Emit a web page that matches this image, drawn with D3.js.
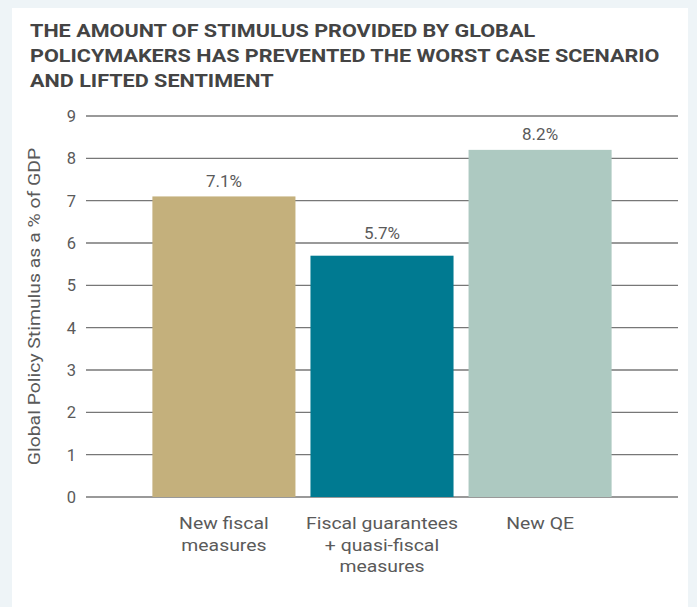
<!DOCTYPE html>
<html>
<head>
<meta charset="utf-8">
<script src="https://cdn.jsdelivr.net/npm/d3@7"></script>
<style>
  html, body { margin: 0; padding: 0; background: #eef4f7; }
  svg { display: block; }
</style>
</head>
<body>
<svg id="chart" width="697" height="607"></svg>
<script>
const titleLines = ["THE AMOUNT OF STIMULUS PROVIDED BY GLOBAL", "POLICYMAKERS HAS PREVENTED THE WORST CASE SCENARIO", "AND LIFTED SENTIMENT"];
const categories = ["New fiscal measures", "Fiscal guarantees + quasi-fiscal measures", "New QE"];
const categoryLines = [["New fiscal", "measures"], ["Fiscal guarantees", "+ quasi-fiscal", "measures"], ["New QE"]];
const values = [7.1, 5.7, 8.2];
const valueLabels = ["7.1%", "5.7%", "8.2%"];
const colors = ["#c4b07c", "#007a91", "#adc9c1"];
const yTicks = [0, 1, 2, 3, 4, 5, 6, 7, 8, 9];
const yTitle = "Global Policy Stimulus as a % of GDP";

const svg = d3.select("#chart");
const font = "Roboto, 'Liberation Sans', sans-serif";
const textColor = "#5a5a5a";

function stretch(sel, k) {
  sel.each(function () {
    const L = this.getComputedTextLength();
    d3.select(this).attr("textLength", L * k).attr("lengthAdjust", "spacingAndGlyphs");
  });
}

// white panel
svg.append("rect").attr("x", 12).attr("y", 8).attr("width", 676).attr("height", 607).attr("fill", "#fff");

// title
const title = svg.append("g").selectAll("text").data(titleLines).join("text")
  .attr("font-family", font).attr("font-weight", 700).attr("font-size", 18.5)
  .attr("fill", "#444")
  .attr("x", 30).attr("y", (d, i) => 37 + i * 25)
  .text(d => d);
stretch(title, 1.167);

const y = d3.scaleLinear().domain([0, 9]).range([497, 116]);
const x = d3.scaleBand().domain(categories).range([86, 678]).paddingInner(0.095).paddingOuter(0.42);

// gridlines
svg.append("g").selectAll("line").data(yTicks).join("line")
  .attr("x1", 86).attr("x2", 678)
  .attr("y1", d => y(d)).attr("y2", d => y(d))
  .attr("stroke", "#777").attr("stroke-width", d => d === 0 ? 1.6 : 1.3);

// y tick labels
svg.append("g").selectAll("text").data(yTicks).join("text")
  .attr("x", 76).attr("y", d => y(d)).attr("dy", "0.36em")
  .attr("text-anchor", "end")
  .attr("font-family", font).attr("font-size", 16.5).attr("fill", textColor)
  .text(d => d);

// bars
svg.append("g").selectAll("rect").data(values).join("rect")
  .attr("x", (d, i) => x(categories[i]))
  .attr("width", x.bandwidth())
  .attr("y", d => y(d))
  .attr("height", d => y(0) - y(d))
  .attr("fill", (d, i) => colors[i]);

// value labels (nudged above a gridline if they would sit on it)
function labelY(d) {
  let b = y(d) - 9.5;
  yTicks.forEach(t => {
    const g = y(t);
    if (b > g - 2 && b < g + 4) b = g - 4;
  });
  return b;
}
svg.append("g").selectAll("text").data(values).join("text")
  .attr("x", (d, i) => x(categories[i]) + x.bandwidth() / 2)
  .attr("y", d => labelY(d))
  .attr("text-anchor", "middle")
  .attr("font-family", font).attr("font-size", 17).attr("fill", textColor)
  .text((d, i) => valueLabels[i]);

// category labels
const catLines = [];
categoryLines.forEach((lines, i) => lines.forEach((l, j) => catLines.push({ l, j, c: categories[i] })));
const cat = svg.append("g").selectAll("text").data(catLines).join("text")
  .attr("text-anchor", "middle")
  .attr("font-family", font).attr("font-size", 17).attr("fill", textColor)
  .attr("x", d => x(d.c) + x.bandwidth() / 2)
  .attr("y", d => 529 + d.j * 21.5)
  .text(d => d.l);
stretch(cat, 1.14);

// y title
const yt = svg.append("text")
  .attr("transform", `translate(40, ${(y(0) + y(9)) / 2}) rotate(-90)`)
  .attr("text-anchor", "middle")
  .attr("font-family", font).attr("font-size", 17).attr("fill", textColor)
  .text(yTitle);
stretch(yt, 1.14);
</script>
</body>
</html>
